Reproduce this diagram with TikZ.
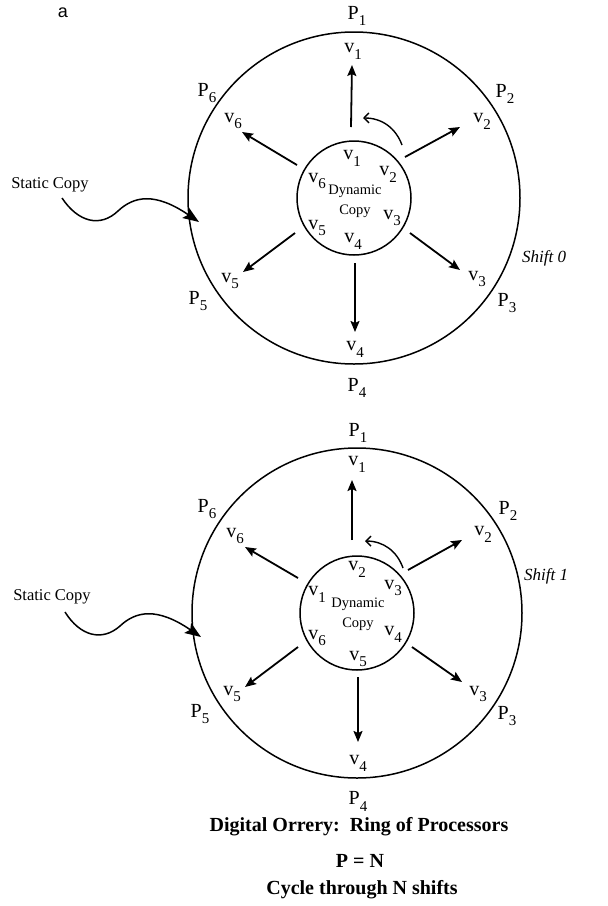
\documentclass[tikz,border=0pt]{standalone}
\usepackage{fontspec}
\setmainfont{Liberation Serif}
\newfontfamily\panelfont{Liberation Sans}
\usetikzlibrary{arrows.meta}

% letter with a lowered index, set in the text font
\newcommand\idx[2]{#1\raisebox{-0.75ex}{\fontsize{15}{15}\selectfont #2}}

\tikzset{
  outerring/.style={circle, draw, line width=1.5pt, inner sep=0pt, minimum size=332pt},
  innerring/.style={circle, draw, line width=1.5pt, inner sep=0pt, minimum size=114pt},
  lab/.style={inner sep=0pt, font=\fontsize{20}{20}\selectfont},
  core/.style={inner sep=0pt, align=center, font=\fontsize{14.5}{20}\selectfont},
  spoke/.style={line width=1.8pt, -{Stealth[length=11pt,width=9pt,inset=2pt]}},
  turn/.style={line width=1.4pt, -{Straight Barb[length=5pt,width=10pt]}},
  feed/.style={line width=1.5pt, -{Stealth[length=16pt,width=12pt,inset=3pt]}},
  note/.style={inner sep=0pt, font=\fontsize{16.5}{16.5}\selectfont},
  shiftlab/.style={inner sep=0pt, anchor=west, font=\fontsize{17}{17}\selectfont\itshape},
  caption/.style={inner sep=0pt, font=\fontsize{20}{20}\selectfont\bfseries}
}

\begin{document}
\begin{tikzpicture}[x=1pt,y=-1pt]
\useasboundingbox (0,0) rectangle (608,906);

\node[inner sep=0pt, font=\fontsize{18}{18}\selectfont\panelfont] (panel) at (63,13) {a};

% ---------- shift 0 ----------
\begin{scope}[shift={(354,198)}]
  \node[outerring] (oA) at (0,0) {};
  \node[innerring] (iA) at (0,0) {};
  \node[core] (dA) at (1,3) {Dynamic\\Copy};
  % processors on the ring
  \node[lab] (pA1) at (3,-182) {\idx{P}{1}};
  \node[lab] (pA2) at (151,-104) {\idx{P}{2}};
  \node[lab] (pA3) at (153,105) {\idx{P}{3}};
  \node[lab] (pA4) at (3,190) {\idx{P}{4}};
  \node[lab] (pA5) at (-156,103) {\idx{P}{5}};
  \node[lab] (pA6) at (-147,-105) {\idx{P}{6}};
  % static values
  \node[lab] (wA1) at (-1,-147) {\idx{v}{1}};
  \node[lab] (wA2) at (128,-77) {\idx{v}{2}};
  \node[lab] (wA3) at (123,81) {\idx{v}{3}};
  \node[lab] (wA4) at (1,151) {\idx{v}{4}};
  \node[lab] (wA5) at (-124,83) {\idx{v}{5}};
  \node[lab] (wA6) at (-121,-77) {\idx{v}{6}};
  % dynamic values
  \node[lab] (uA1) at (-2,-40) {\idx{v}{1}};
  \node[lab] (uA2) at (34,-24) {\idx{v}{2}};
  \node[lab] (uA3) at (38,20) {\idx{v}{3}};
  \node[lab] (uA4) at (-1,43) {\idx{v}{4}};
  \node[lab] (uA5) at (-37,30) {\idx{v}{5}};
  \node[lab] (uA6) at (-37,-17) {\idx{v}{6}};
  % spokes
  \coordinate (sA1) at (-3,-71);  \coordinate (eA1) at (-2,-133);
  \coordinate (sA2) at (51,-41);  \coordinate (eA2) at (106,-71);
  \coordinate (sA3) at (56,35);   \coordinate (eA3) at (106,72);
  \coordinate (sA4) at (1,65);    \coordinate (eA4) at (1,134);
  \coordinate (sA5) at (-59,35);  \coordinate (eA5) at (-111,74);
  \coordinate (sA6) at (-57,-33); \coordinate (eA6) at (-112,-66);
  \foreach \k in {1,...,6} {\draw[spoke] (sA\k) -- (eA\k);}
  \coordinate (rA0) at (48,-53); \coordinate (rA1) at (9,-80);
  \draw[turn] (rA0) to[bend right=35] (rA1);
\end{scope}

% ---------- shift 1 ----------
\begin{scope}[shift={(357,613)}]
  \node[outerring, minimum size=330pt] (oB) at (0,0) {};
  \node[innerring] (iB) at (0,0) {};
  \node[core] (dB) at (1,1) {Dynamic\\Copy};
  \node[lab] (pB1) at (1,-180) {\idx{P}{1}};
  \node[lab] (pB2) at (151,-102) {\idx{P}{2}};
  \node[lab] (pB3) at (150,103) {\idx{P}{3}};
  \node[lab] (pB4) at (1,188) {\idx{P}{4}};
  \node[lab] (pB5) at (-157,101) {\idx{P}{5}};
  \node[lab] (pB6) at (-150,-104) {\idx{P}{6}};
  \node[lab] (wB1) at (0,-149) {\idx{v}{1}};
  \node[lab] (wB2) at (126,-79) {\idx{v}{2}};
  \node[lab] (wB3) at (121,81) {\idx{v}{3}};
  \node[lab] (wB4) at (1,150) {\idx{v}{4}};
  \node[lab] (wB5) at (-125,81) {\idx{v}{5}};
  \node[lab] (wB6) at (-122,-77) {\idx{v}{6}};
  \node[lab] (uB2) at (0,-44) {\idx{v}{2}};
  \node[lab] (uB3) at (36,-25) {\idx{v}{3}};
  \node[lab] (uB4) at (36,21) {\idx{v}{4}};
  \node[lab] (uB5) at (1,46) {\idx{v}{5}};
  \node[lab] (uB6) at (-40,25) {\idx{v}{6}};
  \node[lab] (uB1) at (-40,-19) {\idx{v}{1}};
  \coordinate (sB1) at (-5,-73);  \coordinate (eB1) at (-5,-133);
  \coordinate (sB2) at (51,-43);  \coordinate (eB2) at (105,-73);
  \coordinate (sB3) at (55,34);   \coordinate (eB3) at (105,69);
  \coordinate (sB4) at (1,64);    \coordinate (eB4) at (1,129);
  \coordinate (sB5) at (-59,34);  \coordinate (eB5) at (-112,74);
  \coordinate (sB6) at (-59,-35); \coordinate (eB6) at (-112,-66);
  \foreach \k in {1,...,6} {\draw[spoke] (sB\k) -- (eB\k);}
  \coordinate (rB0) at (46,-45); \coordinate (rB1) at (8,-72);
  \draw[turn] (rB0) to[bend right=35] (rB1);
\end{scope}

% ---------- static copy pointers ----------
\node[note] (scA) at (50,185) {Static Copy};
\coordinate (fA0) at (62,198);
\coordinate (fA1) at (199,222);
\draw[feed] (fA0) .. controls (78,222) and (100,228) .. (118,211)
                  .. controls (134,196) and (155,192) .. (fA1);

\node[note] (scB) at (52,597) {Static Copy};
\coordinate (fB0) at (65,612);
\coordinate (fB1) at (201,637);
\draw[feed] (fB0) .. controls (80,636) and (102,642) .. (120,626)
                  .. controls (136,611) and (157,607) .. (fB1);

\node[shiftlab] (sh0) at (522,258) {Shift 0};
\node[shiftlab] (sh1) at (524,576) {Shift 1};

% ---------- caption ----------
\node[caption] (cap1) at (359,827) {Digital Orrery:\ \ Ring of Processors};
\node[caption] (cap2) at (360,861) {P = N};
\node[caption] (cap3) at (362,890) {Cycle through N shifts};
\end{tikzpicture}
\end{document}
